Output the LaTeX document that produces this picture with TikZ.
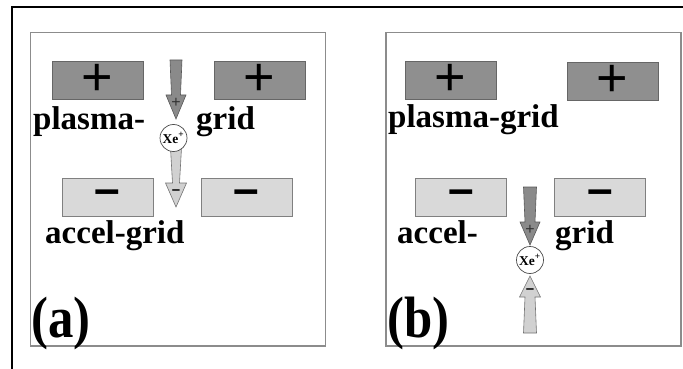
\documentclass[tikz,border=0pt]{standalone}
\usepackage{fontspec}
\setmainfont{Liberation Serif}
\newfontfamily\symfont{Liberation Sans}
\begin{document}
\begin{tikzpicture}[x=1pt,y=-1pt,
  panelbox/.style={draw=black!45,line width=1.4pt},
  darkbox/.style={draw=black!60,fill=black!44,line width=0.8pt},
  lightbox/.style={draw=black!50,fill=black!15,line width=0.8pt},
  darkarrow/.style={draw=black!65,fill=black!46,line width=0.6pt},
  lightarrow/.style={draw=black!55,fill=black!18,line width=0.6pt},
  ion/.style={circle,draw=black!70,fill=white,line width=0.7pt,minimum size=27pt,inner sep=0pt,font=\fontsize{13.5}{13.5}\selectfont\bfseries},
  lbl/.style={anchor=base west,inner sep=0pt,font=\fontsize{33}{33}\selectfont\bfseries},
  tag/.style={anchor=base west,inner sep=0pt,font=\fontsize{54}{54}\selectfont\bfseries},
  bigplus/.style={inner sep=0pt,font=\symfont\fontsize{54}{54}\selectfont},
  bigminus/.style={inner sep=0pt,font=\symfont\fontsize{46}{46}\selectfont\bfseries},
  smallplus/.style={inner sep=0pt,text=black!80,font=\symfont\fontsize{16}{16}\selectfont},
  smallminus/.style={inner sep=0pt,font=\symfont\fontsize{15}{15}\selectfont\bfseries}
]
\useasboundingbox (0,0) rectangle (683,369);
% outer frame
\draw[line width=2pt] (12,369) -- (12,7) -- (683,7);
% panels
\draw[panelbox] (30.5,32.5) rectangle (325.5,346);
\draw[panelbox] (386,32.5) rectangle (681,346);

% ---------- panel (a) ----------
\node[darkbox,minimum width=91pt,minimum height=38pt,inner sep=0pt] (apl) at (97.5,80) {};
\node[darkbox,minimum width=91pt,minimum height=38pt,inner sep=0pt] (apr) at (259.5,80) {};
\node[bigplus] at (apl) {+};
\node[bigplus] at (apr) {+};
\node[lightbox,minimum width=91pt,minimum height=38pt,inner sep=0pt] (aml) at (107.5,197) {};
\node[lightbox,minimum width=91pt,minimum height=38pt,inner sep=0pt] (amr) at (246.5,197) {};
\node[bigminus] at (aml) {–};
\node[bigminus] at (amr) {–};
\node[lbl] (aplasma) at (33,129) {plasma-};
\node[lbl] (agrid) at (196,129) {grid};
\node[lbl] (aaccel) at (45,243) {accel-grid};
\node[tag] (atag) at (31,337) {\scalebox{0.94}[1.08]{(a)}};
% arrows
\draw[lightarrow] (170.5,148) -- (181.5,148) -- (179.5,183) -- (186.5,183) -- (176,207) -- (165.5,183) -- (172.5,183) -- cycle;
\node[smallminus] at (176,192) {–};
\draw[darkarrow] (170,60) -- (182,60) -- (180.5,95) -- (186,95) -- (176,119) -- (166,95) -- (171.5,95) -- cycle;
\node[smallplus] at (176,103) {+};
\node[ion] (aion) at (173.5,138) {Xe\textsuperscript{+}};

% ---------- panel (b) ----------
\node[darkbox,minimum width=91pt,minimum height=38pt,inner sep=0pt] (bpl) at (450.5,80) {};
\node[darkbox,minimum width=91pt,minimum height=38pt,inner sep=0pt] (bpr) at (612.5,81) {};
\node[bigplus] at (bpl) {+};
\node[bigplus] at (bpr) {+};
\node[lightbox,minimum width=91pt,minimum height=38pt,inner sep=0pt] (bml) at (461,197) {};
\node[lightbox,minimum width=91pt,minimum height=38pt,inner sep=0pt] (bmr) at (600,197) {};
\node[bigminus] at (bml) {–};
\node[bigminus] at (bmr) {–};
\node[lbl] (bplasma) at (388,128) {plasma-grid};
\node[lbl] (baccel) at (397,243) {accel-};
\node[lbl] (bgrid) at (555,243) {grid};
\node[tag] (btag) at (387,337) {\scalebox{0.94}[1.08]{(b)}};
% arrows
\draw[darkarrow] (523.5,187) -- (536.5,187) -- (535,222) -- (540,222) -- (530,245) -- (520,222) -- (525,222) -- cycle;
\node[smallplus] at (530,230) {+};
\draw[lightarrow] (523.5,333) -- (536.5,333) -- (535,297) -- (540.5,297) -- (530,276) -- (519.5,297) -- (525,297) -- cycle;
\node[smallminus] at (530,291) {–};
\node[ion] (bion) at (530,260) {Xe\textsuperscript{+}};
\end{tikzpicture}
\end{document}
